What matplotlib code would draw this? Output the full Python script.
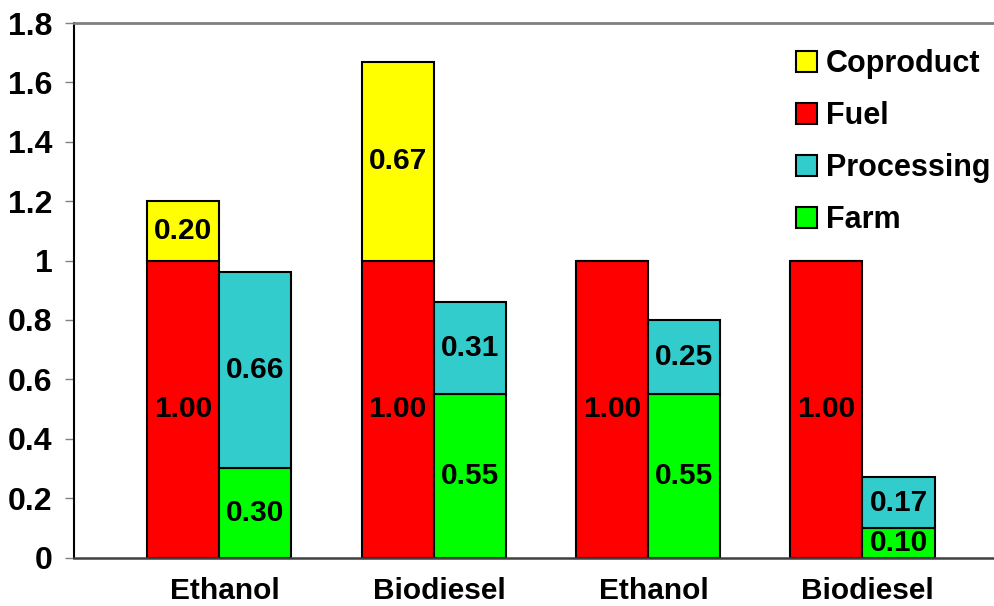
import matplotlib
matplotlib.use('Agg')
import matplotlib.pyplot as plt
import numpy as np

# data
categories = ['Ethanol', 'Biodiesel', 'Ethanol', 'Biodiesel']
fuel = [1.00, 1.00, 1.00, 1.00]
coproduct = [0.20, 0.67, 0.00, 0.00]
farm = [0.30, 0.55, 0.55, 0.10]
processing = [0.66, 0.31, 0.25, 0.17]
yticks = [0, 0.2, 0.4, 0.6, 0.8, 1, 1.2, 1.4, 1.6, 1.8]

plt.rcParams['font.family'] = ['Liberation Sans', 'DejaVu Sans']
plt.rcParams['font.weight'] = 'bold'

c_yellow = '#FFFF00'
c_red = '#FF0000'
c_cyan = '#33CCCC'
c_green = '#00FF00'

fig = plt.figure(figsize=(9.95, 6.06), dpi=100)
ax = fig.add_axes([0.0744, 0.080, 0.9256, 0.882])

x = np.arange(len(categories))
w = 0.336
lw = 1.5

b_fuel = ax.bar(x - w/2, fuel, w, color=c_red, edgecolor='black', linewidth=lw, label='Fuel')
b_cop = ax.bar(x - w/2, coproduct, w, bottom=fuel, color=c_yellow, edgecolor='black', linewidth=lw, label='Coproduct')
b_farm = ax.bar(x + w/2, farm, w, color=c_green, edgecolor='black', linewidth=lw, label='Farm')
b_proc = ax.bar(x + w/2, processing, w, bottom=farm, color=c_cyan, edgecolor='black', linewidth=lw, label='Processing')

# value labels in the middle of each segment
lab_fs = 21.5
for i in range(len(categories)):
    ax.text(x[i] - w/2, fuel[i] / 2, '%.2f' % fuel[i], ha='center', va='center',
            fontsize=lab_fs, fontweight='bold')
    if coproduct[i] > 0:
        ax.text(x[i] - w/2, fuel[i] + coproduct[i] / 2, '%.2f' % coproduct[i],
                ha='center', va='center', fontsize=lab_fs, fontweight='bold')
    ax.text(x[i] + w/2, farm[i] / 2, '%.2f' % farm[i], ha='center', va='center',
            fontsize=lab_fs, fontweight='bold')
    ax.text(x[i] + w/2, farm[i] + processing[i] / 2, '%.2f' % processing[i],
            ha='center', va='center', fontsize=lab_fs, fontweight='bold')

ax.set_xlim(-0.677, 3.618)
ax.set_ylim(0, 1.8)
ax.set_yticks(yticks)
ax.set_yticklabels(['%g' % v for v in yticks])
ax.set_xticks(x + 0.025)
ax.set_xticklabels(categories)

ax.tick_params(axis='y', direction='out', length=6.5, width=1, color='#808080',
               pad=9, labelsize=23)
ax.tick_params(axis='x', length=0, pad=14, labelsize=21.5)
for t in ax.get_xticklabels() + ax.get_yticklabels():
    t.set_fontweight('bold')

ax.spines['left'].set_color('black')
ax.spines['left'].set_linewidth(1.5)
ax.spines['bottom'].set_color('#404040')
ax.spines['bottom'].set_linewidth(1.8)
ax.spines['top'].set_color('#808080')
ax.spines['top'].set_linewidth(2)
ax.spines['right'].set_visible(False)

handles = [b_cop, b_fuel, b_proc, b_farm]
labels = ['Coproduct', 'Fuel', 'Processing', 'Farm']
leg = fig.legend(handles, labels, loc='upper left', bbox_to_anchor=(796/995, 1 - 49/606),
                 frameon=False, fontsize=22, handlelength=0.68, handleheight=0.68,
                 handletextpad=0.3, labelspacing=0.72, borderpad=0, borderaxespad=0)
for t in leg.get_texts():
    t.set_fontweight('bold')

fig.savefig('out.png', dpi=100)
